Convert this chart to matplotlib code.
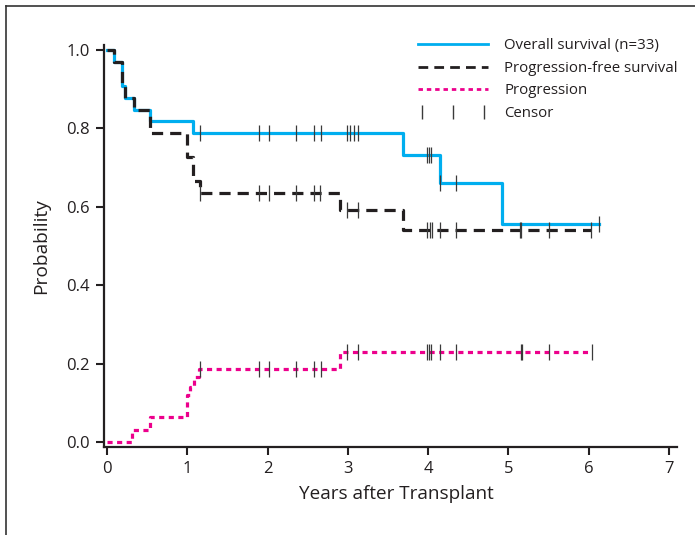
import numpy as np
import matplotlib
matplotlib.use('Agg')
import matplotlib.pyplot as plt
from matplotlib.lines import Line2D
from matplotlib.legend_handler import HandlerLine2D

plt.rcParams['font.family'] = ['Open Sans', 'DejaVu Sans']

# overall survival (n=33)
os_t = [0, 0.08, 0.18, 0.22, 0.33, 0.535, 1.075, 3.68, 4.15, 4.915, 6.13]
os_s = [1.0, 0.970, 0.909, 0.879, 0.848, 0.818, 0.788, 0.733, 0.661, 0.555, 0.555]
os_cens = [1.16, 1.89, 2.02, 2.35, 2.58, 2.67, 2.985, 3.03, 3.07, 3.12,
           3.98, 4.01, 4.04, 4.15, 4.34, 6.13]

# progression-free survival
pfs_t = [0, 0.08, 0.18, 0.22, 0.33, 0.535, 0.99, 1.067, 1.16, 2.90, 3.69, 6.03]
pfs_s = [1.0, 0.970, 0.909, 0.879, 0.848, 0.788, 0.727, 0.667, 0.634, 0.593, 0.540, 0.540]
pfs_cens = [1.16, 1.89, 2.02, 2.35, 2.58, 2.65, 2.985, 3.13, 3.98, 4.02, 4.05,
            4.15, 4.34, 5.14, 5.16, 5.50, 6.03]

# cumulative progression
prog_t = [0, 0.31, 0.53, 0.99, 1.03, 1.08, 1.14, 2.90, 6.04]
prog_s = [0, 0.030, 0.063, 0.12, 0.14, 0.165, 0.186, 0.229, 0.229]
prog_cens = [1.16, 1.89, 2.02, 2.35, 2.58, 2.67, 2.985, 3.13, 3.98, 4.01, 4.04,
             4.15, 4.34, 5.15, 5.17, 5.50, 6.04]

c_blue = '#00aeef'
c_black = '#231f20'
c_pink = '#ec008c'
c_cens = '#3a3a3a'


def step_at(t, times, vals):
    i = np.searchsorted(times, t, side='right') - 1
    return np.asarray(vals)[i]


fig = plt.figure(figsize=(6.95, 5.35), dpi=100)
ax = fig.add_axes([104/695, 1-447/535, (677-104)/695, (447-45)/535])

ax.step(os_t, os_s, where='post', color=c_blue, lw=2.3, zorder=2)
ax.step(pfs_t, pfs_s, where='post', color=c_black, lw=2.3, ls=(0, (3.5, 2.2)), zorder=3)
ax.step(prog_t, prog_s, where='post', color=c_pink, lw=2.3, ls=(0, (1.6, 1.4)), zorder=4)

for times, vals, cens in [(os_t, os_s, os_cens), (pfs_t, pfs_s, pfs_cens),
                          (prog_t, prog_s, prog_cens)]:
    ys = [step_at(c, times, vals) for c in cens]
    ax.plot(cens, ys, ls='none', marker='|', ms=11, mew=0.9, color=c_cens, zorder=5)

ax.set_xlim(-0.04, 7.1)
ax.set_ylim(-0.013, 1.013)
ax.set_xticks(range(8))
ax.set_yticks([0.0, 0.2, 0.4, 0.6, 0.8, 1.0])
ax.set_yticklabels(['0.0', '0.2', '0.4', '0.6', '0.8', '1.0'])
ax.tick_params(direction='out', length=6, width=1.5, labelsize=12, color=c_black,
               labelcolor=c_black, pad=4)
for s in ['top', 'right']:
    ax.spines[s].set_visible(False)
for s in ['left', 'bottom']:
    ax.spines[s].set_linewidth(1.6)
    ax.spines[s].set_color(c_black)

ax.set_xlabel('Years after Transplant', fontsize=13.6, color=c_black, labelpad=7)
ax.xaxis.set_label_coords(0.511, -0.095)
ax.set_ylabel('Probability', fontsize=13.8, color=c_black, labelpad=12)

cens_handle = Line2D([0], [0], ls='none', marker='|', ms=10, mew=1, color=c_cens)
handles = [
    Line2D([0], [0], color=c_blue, lw=2),
    Line2D([0], [0], color=c_black, lw=2, ls=(0, (3.5, 2.2))),
    Line2D([0], [0], color=c_pink, lw=2, ls=(0, (1.6, 1.4))),
    cens_handle,
]
labels = ['Overall survival (n=33)', 'Progression-free survival', 'Progression', 'Censor']
ax.legend(handles, labels, loc='upper left', bbox_to_anchor=(0.524, 1.05), frameon=False,
          fontsize=10.8, handlelength=4.7, handletextpad=1.05, labelspacing=0.5,
          labelcolor=c_black, handler_map={cens_handle: HandlerLine2D(numpoints=3)})

# outer frame (top and left only)
fig.add_artist(Line2D([6/695, 1], [1-6/535, 1-6/535], color='#333333', lw=1.2))
fig.add_artist(Line2D([6/695, 6/695], [0, 1-6/535], color='#333333', lw=1.2))

fig.savefig('out.png', dpi=100)
